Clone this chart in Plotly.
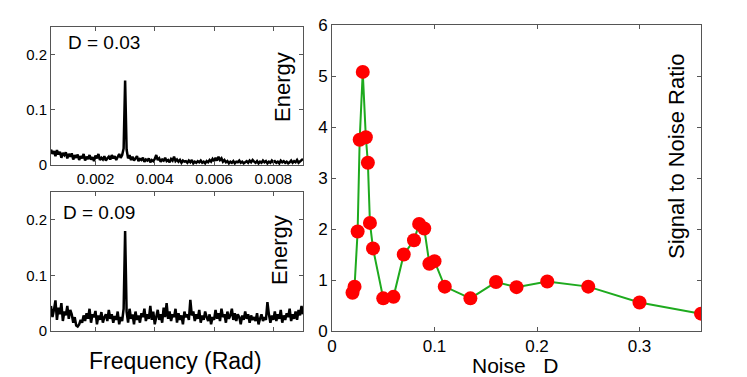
import plotly.graph_objects as go

W, H = 747, 377
PAD = 8  # page body margin

# spectrum frequency grid (Rad)
freq = [round(0.0005 + 0.00005 * i, 5) for i in range(171)]

# energy spectrum, D = 0.03
energy_d003 = [
    0.028, 0.020, 0.025, 0.016, 0.027, 0.019, 0.024, 0.013, 0.022, 0.018,
    0.023, 0.012, 0.020, 0.015, 0.021, 0.010, 0.018, 0.013, 0.019, 0.009,
    0.016, 0.012, 0.020, 0.008, 0.015, 0.011, 0.018, 0.010, 0.014, 0.007,
    0.017, 0.012, 0.020, 0.009, 0.013, 0.010, 0.016, 0.008, 0.012, 0.015,
    0.010, 0.018, 0.012, 0.016, 0.009, 0.014, 0.020, 0.013, 0.018, 0.030,
    0.153,
    0.028, 0.012, 0.018, 0.009, 0.015, 0.008, 0.012, 0.016, 0.007, 0.011,
    0.009, 0.013, 0.006, 0.010, 0.008, 0.012, 0.005, 0.009, 0.007, 0.011,
    0.018, 0.009, 0.012, 0.006, 0.010, 0.008, 0.013, 0.007, 0.009, 0.005,
    0.011, 0.008, 0.015, 0.007, 0.010, 0.006, 0.009, 0.004, 0.008, 0.006,
    0.007, 0.004, 0.008, 0.005, 0.009, 0.003, 0.006, 0.004, 0.007, 0.005,
    0.008, 0.004, 0.006, 0.003, 0.007, 0.005, 0.009, 0.006, 0.011, 0.007,
    0.013, 0.008, 0.015, 0.009, 0.012, 0.006, 0.009, 0.005, 0.007, 0.003,
    0.006, 0.004, 0.007, 0.003, 0.006, 0.005, 0.008, 0.004, 0.006, 0.003,
    0.005, 0.007, 0.004, 0.008, 0.005, 0.009, 0.006, 0.004, 0.007, 0.003,
    0.006, 0.004, 0.008, 0.005, 0.007, 0.003, 0.006, 0.004, 0.008, 0.005,
    0.007, 0.004, 0.006, 0.003, 0.008, 0.005, 0.007, 0.004, 0.006, 0.003,
    0.005, 0.008, 0.004, 0.007, 0.005, 0.009, 0.004, 0.006, 0.008, 0.011,
]

# energy spectrum, D = 0.09
energy_d009 = [
    0.045, 0.025, 0.038, 0.055, 0.020, 0.042, 0.030, 0.050, 0.018, 0.035,
    0.028, 0.045, 0.022, 0.038, 0.030, 0.015, 0.025, 0.010, 0.008, 0.012,
    0.020, 0.015, 0.028, 0.018, 0.032, 0.022, 0.040, 0.015, 0.030, 0.025,
    0.036, 0.012, 0.028, 0.020, 0.034, 0.015, 0.025, 0.030, 0.018, 0.038,
    0.022, 0.030, 0.015, 0.027, 0.020, 0.035, 0.012, 0.025, 0.018, 0.040,
    0.180,
    0.035, 0.015, 0.040, 0.022, 0.030, 0.012, 0.035, 0.020, 0.028, 0.015,
    0.032, 0.025, 0.040, 0.018, 0.030, 0.022, 0.045, 0.020, 0.035, 0.012,
    0.025, 0.038, 0.020, 0.030, 0.015, 0.042, 0.025, 0.050, 0.022, 0.035,
    0.018, 0.030, 0.025, 0.040, 0.015, 0.032, 0.020, 0.028, 0.012, 0.035,
    0.025, 0.030, 0.020, 0.056, 0.028, 0.035, 0.018, 0.030, 0.022, 0.038,
    0.015, 0.028, 0.020, 0.035, 0.025, 0.018, 0.030, 0.012, 0.025, 0.020,
    0.038, 0.022, 0.032, 0.018, 0.040, 0.025, 0.030, 0.015, 0.035, 0.022,
    0.028, 0.040, 0.020, 0.032, 0.018, 0.030, 0.025, 0.012, 0.028, 0.020,
    0.035, 0.022, 0.030, 0.015, 0.028, 0.020, 0.025, 0.018, 0.032, 0.012,
    0.022, 0.030, 0.018, 0.025, 0.020, 0.052, 0.030, 0.015, 0.028, 0.020,
    0.035, 0.018, 0.030, 0.022, 0.038, 0.015, 0.028, 0.020, 0.032, 0.025,
    0.040, 0.018, 0.030, 0.022, 0.035, 0.020, 0.038, 0.028, 0.045, 0.030,
]

# signal to noise ratio vs noise D
noise_d = [0.020, 0.022, 0.025, 0.027, 0.030, 0.033, 0.035, 0.037, 0.040,
           0.050, 0.060, 0.070, 0.080, 0.085, 0.090, 0.095, 0.100, 0.110,
           0.135, 0.160, 0.180, 0.210, 0.250, 0.300, 0.360]
snr = [0.75, 0.87, 1.95, 3.75, 5.08, 3.80, 3.30, 2.12, 1.62,
       0.64, 0.67, 1.50, 1.78, 2.10, 2.01, 1.32, 1.37, 0.87,
       0.64, 0.96, 0.86, 0.97, 0.87, 0.56, 0.34]

FONT = "Liberation Sans, Arial, sans-serif"
AX = "#555555"
FW, FH = W - PAD, H - PAD


def px_x(p):
    return (p - PAD) / FW


def px_y(p):
    return 1 - (p - PAD) / FH


fig = go.Figure()

fig.add_trace(go.Scatter(x=freq, y=energy_d003, mode="lines", xaxis="x", yaxis="y",
                         line=dict(color="black", width=2.5), showlegend=False))
fig.add_trace(go.Scatter(x=freq, y=energy_d009, mode="lines", xaxis="x2", yaxis="y2",
                         line=dict(color="black", width=2.5), showlegend=False))
fig.add_trace(go.Scatter(x=noise_d, y=snr, mode="lines+markers", xaxis="x3", yaxis="y3",
                         line=dict(color="rgb(30,170,30)", width=2),
                         marker=dict(color="red", size=14), showlegend=False))

common = dict(showline=True, linecolor=AX, linewidth=1, mirror="ticks", ticks="inside",
              ticklen=4, tickcolor=AX, showgrid=False, zeroline=False, automargin=False,
              tickfont=dict(family=FONT, size=15, color="black"))
big = {**common, "tickfont": dict(family=FONT, size=17, color="black")}

left_dom = [px_x(51), px_x(303)]
fig.update_layout(
    xaxis=dict(domain=left_dom, anchor="y", range=[0.0005, 0.009],
               tickvals=[0.002, 0.004, 0.006, 0.008], **common),
    yaxis=dict(domain=[px_y(165), px_y(27)], anchor="x", range=[0, 0.25],
               tickvals=[0, 0.1, 0.2], **common),
    xaxis2=dict(domain=left_dom, anchor="y2", range=[0.0005, 0.009],
                tickvals=[0.002, 0.004, 0.006, 0.008], showticklabels=False,
                **common),
    yaxis2=dict(domain=[px_y(331), px_y(192)], anchor="x2", range=[0, 0.25],
                tickvals=[0, 0.1, 0.2], **common),
    xaxis3=dict(domain=[px_x(332), px_x(701)], anchor="y3", range=[0, 0.36],
                tickvals=[0, 0.1, 0.2, 0.3], ticktext=["0", "0.1", "0.2", "0.3"], **big),
    yaxis3=dict(domain=[px_y(331), px_y(25)], anchor="x3", range=[0, 6],
                tickvals=[0, 1, 2, 3, 4, 5, 6], **big),
)

ann = []


def label(text, x, y, size, angle=0, xanchor="center", yanchor="middle"):
    ann.append(dict(text=text, x=px_x(x), y=px_y(y), xref="paper", yref="paper",
                    showarrow=False, textangle=angle, xanchor=xanchor, yanchor=yanchor,
                    font=dict(family=FONT, size=size, color="black")))


label("D = 0.03", 66, 43, 19, xanchor="left")
label("D = 0.09", 61, 212, 19, xanchor="left")
label("Energy", 283, 87, 22, angle=-90)
label("Energy", 279, 250, 22, angle=-90)
label("Frequency (Rad)", 175, 361, 23)
label("Signal to Noise Ratio", 676, 157, 22, angle=-90)
label("Noise\u00a0\u00a0\u00a0D", 515, 379, 21, yanchor="bottom")

fig.update_layout(
    annotations=ann,
    width=FW, height=FH,
    margin=dict(l=0, r=0, t=0, b=0),
    paper_bgcolor="white", plot_bgcolor="white",
)

fig.write_html("out.html")
